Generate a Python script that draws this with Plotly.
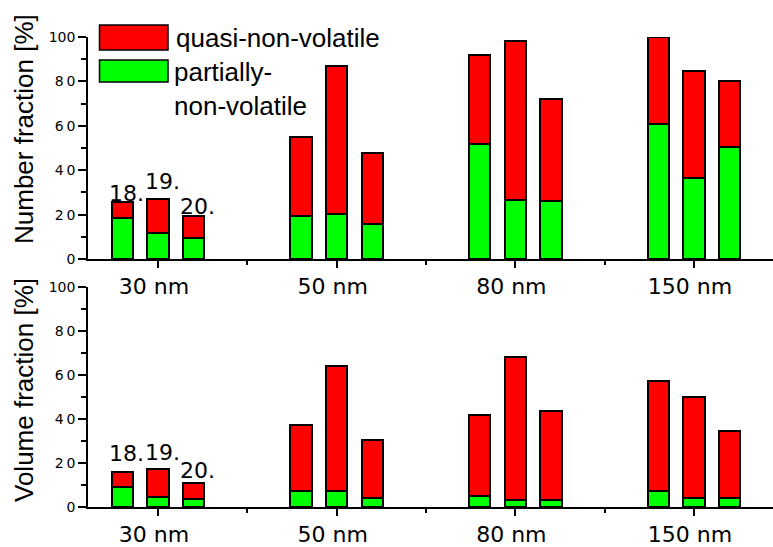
import plotly.graph_objects as go

# Particle sizes (x categories) and sampling runs within each size group
sizes = ["30 nm", "50 nm", "80 nm", "150 nm"]
runs = ["18.", "19.", "20."]

# Number fraction [%]: partially-non-volatile and quasi-non-volatile parts (per size, per run)
number_partial = [[18.6, 11.6, 9.6], [19.4, 20.3, 15.9], [51.8, 26.6, 26.0], [60.8, 36.6, 50.3]]
number_quasi = [[7.2, 15.3, 9.9], [35.6, 66.8, 31.7], [40.0, 71.5, 45.9], [39.2, 48.1, 29.9]]

# Volume fraction [%]
volume_partial = [[8.9, 4.4, 3.6], [7.1, 7.1, 4.1], [5.1, 3.3, 3.3], [7.1, 4.1, 4.1]]
volume_quasi = [[7.2, 12.8, 7.3], [30.1, 57.2, 26.4], [36.6, 64.7, 40.2], [50.1, 45.7, 30.3]]

RED = "#ff0000"
GREEN = "#00ff00"
ARIAL = "Liberation Sans, Arial, sans-serif"
NUMF = "DejaVu Sans, sans-serif"

W, H = 773, 547
ML, MR, MT, MB = 88, 0, 37, 40
PW, PH = W - ML - MR, H - MT - MB

def px_x(p):
    return (p - ML) / PW

def px_y(p):
    return (H - MB - p) / PH

run_offset = [-0.2, 0.0, 0.2]
bar_width = 0.12

def positions():
    return [i + run_offset[j] for i in range(len(sizes)) for j in range(len(runs))]

def flat(rows):
    return [v for row in rows for v in row]

fig = go.Figure()
xs = positions()
for xa, ya, part, quasi in [("x", "y", number_partial, number_quasi),
                            ("x2", "y2", volume_partial, volume_quasi)]:
    fig.add_trace(go.Bar(x=xs, y=flat(part), width=bar_width, xaxis=xa, yaxis=ya,
                         marker=dict(color=GREEN, line=dict(color="black", width=2)),
                         name="partially-non-volatile", showlegend=False))
    fig.add_trace(go.Bar(x=xs, y=flat(quasi), width=bar_width, xaxis=xa, yaxis=ya,
                         marker=dict(color=RED, line=dict(color="black", width=2)),
                         name="quasi-non-volatile", showlegend=False))

xrange = [-70 / 178.67, -70 / 178.67 + PW / 178.67]
xcommon = dict(range=xrange, tickvals=list(range(len(sizes))), ticktext=sizes,
               ticks="outside", ticklen=7, tickwidth=1.5, tickcolor="black",
               showline=True, linecolor="black", linewidth=1.5, showgrid=False, zeroline=False,
               tickfont=dict(family=NUMF, size=22, color="black"),
               ticklabelshift=-4,
               minor=dict(tickvals=[0.5, 1.5, 2.5], ticks="outside", ticklen=4,
                          tickwidth=1.5, tickcolor="black"))
ycommon = dict(range=[0, 100], tickvals=[0, 20, 40, 60, 80, 100],
               ticktext=["0", "2\u20090", "4\u20090", "6\u20090", "8\u20090", "100"],
               ticks="outside", ticklen=8, tickwidth=1.5, tickcolor="black",
               showline=True, linecolor="black", linewidth=1.5, showgrid=False, zeroline=False,
               tickfont=dict(family=NUMF, size=14, color="black"),
               minor=dict(dtick=10, ticks="outside", ticklen=5, tickwidth=1.5, tickcolor="black"))

fig.update_layout(
    width=W, height=H, margin=dict(l=ML, r=MR, t=MT, b=MB),
    paper_bgcolor="white", plot_bgcolor="white", barmode="stack", bargap=0,
    xaxis=dict(domain=[0, 1], anchor="y", **xcommon),
    yaxis=dict(domain=[px_y(259), 1], anchor="x", **ycommon),
    xaxis2=dict(domain=[0, 1], anchor="y2", **xcommon),
    yaxis2=dict(domain=[0, px_y(287)], anchor="x2", **ycommon),
)

# Axis titles
for title, yc in [("Number fraction [%]", 129), ("Volume fraction [%]", 390)]:
    fig.add_annotation(text=title, textangle=-90, xref="paper", yref="paper",
                       x=px_x(24), y=px_y(yc), xanchor="center", yanchor="middle",
                       showarrow=False, font=dict(family=ARIAL, size=26, color="black"))

# Run labels above the 30 nm bars
label_lift = {"y": [-6, 3, -5], "y2": [4, 2, -2]}
for xa, ya, part, quasi in [("x", "y", number_partial, number_quasi),
                            ("x2", "y2", volume_partial, volume_quasi)]:
    for j, run in enumerate(runs):
        fig.add_annotation(text=run, xref=xa, yref=ya, x=run_offset[j],
                           y=part[0][j] + quasi[0][j], xanchor="center", yanchor="bottom",
                           xshift=4, yshift=label_lift[ya][j], showarrow=False,
                           font=dict(family=NUMF, size=22, color="black"))

# Legend drawn as boxes with labels
fig.add_shape(type="rect", xref="paper", yref="paper", x0=px_x(99.5), x1=px_x(168),
              y0=px_y(50), y1=px_y(25), fillcolor=RED, line=dict(color="black", width=1.5))
fig.add_shape(type="rect", xref="paper", yref="paper", x0=px_x(99.5), x1=px_x(168),
              y0=px_y(82), y1=px_y(60), fillcolor=GREEN, line=dict(color="black", width=1.5))
fig.add_annotation(text="quasi-non-volatile", xref="paper", yref="paper", x=px_x(174),
                   y=px_y(38), xanchor="left", yanchor="middle", showarrow=False,
                   font=dict(family=ARIAL, size=26, color="black"))
fig.add_annotation(text="partially-<br>non-volatile", xref="paper", yref="paper", x=px_x(172),
                   y=px_y(89), xanchor="left", yanchor="middle", align="left", showarrow=False,
                   font=dict(family=ARIAL, size=26, color="black"))

fig.write_html("out.html")
